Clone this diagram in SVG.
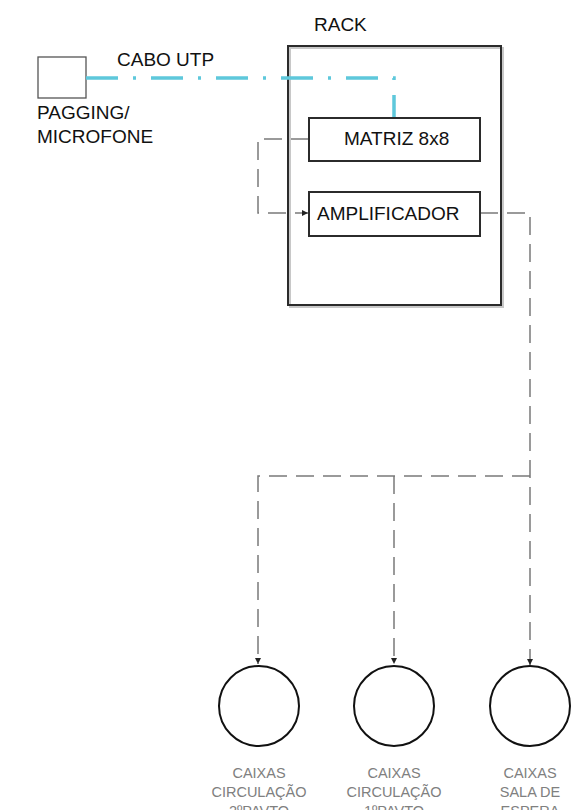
<svg xmlns="http://www.w3.org/2000/svg" width="573" height="810" viewBox="0 0 573 810">
<style>
.box{fill:none;stroke:#2b2b2b;stroke-width:2}
.shadow{fill:none;stroke:#c8c8c8;stroke-width:2}
.lbl{font-family:"Liberation Sans",Arial,sans-serif;font-size:19px;fill:#111}
.cap{font-family:"Liberation Sans",Arial,sans-serif;font-size:14.5px;fill:#808080;text-anchor:middle}
.dash{fill:none;stroke:#7a7a7a;stroke-width:1.5;stroke-dasharray:18 9}
.spk{fill:#fff;stroke:#111;stroke-width:2}
.utp{fill:none;stroke:#5ec8db;stroke-width:3.5;stroke-dasharray:32 15 3 15}
</style>
<defs>
<marker id="arr" viewBox="0 0 10 10" refX="10" refY="5" markerWidth="8" markerHeight="6" markerUnits="userSpaceOnUse" orient="auto">
<path d="M0,0 L10,5 L0,10 z" fill="#222"/>
</marker>
</defs>

<g id="pagging">
<rect x="38" y="57" width="48" height="41" fill="#fff" stroke="#555" stroke-width="1.3"/>
<text class="lbl" x="37" y="119">PAGGING/</text>
<text class="lbl" x="37" y="143">MICROFONE</text>
</g>

<g id="rack">
<rect class="shadow" x="290" y="48" width="213" height="259"/>
<rect class="box" x="288" y="46" width="213" height="259" fill="#fff"/>
<text class="lbl" x="314" y="31">RACK</text>
</g>

<g id="connectors">
<path class="utp" d="M86,78 H394 V117"/>
<path class="dash" d="M309,139 H258 V213 H308" marker-end="url(#arr)"/>
<path class="dash" d="M480,213 H530 V665" stroke-dasharray="20 9 18 9" marker-end="url(#arr)"/>
<path class="dash" d="M530,476 H258 V664" marker-end="url(#arr)"/>
<path d="M394,476 V664" fill="none" stroke="#7a7a7a" stroke-width="1.5" stroke-dasharray="18 9" marker-end="url(#arr)"/>
</g>

<g id="matriz">
<rect class="box" x="309" y="118" width="171" height="43" fill="#fff"/>
<text class="lbl" x="344" y="145">MATRIZ 8x8</text>
</g>

<g id="amplificador">
<rect class="box" x="309" y="192" width="171" height="44" fill="#fff"/>
<text class="lbl" x="317" y="220">AMPLIFICADOR</text>
</g>

<g id="cx2">
<circle class="spk" cx="259" cy="706" r="40"/>
<text class="cap" x="259" y="778">CAIXAS</text>
<text class="cap" x="259" y="797">CIRCULAÇÃO</text>
<text class="cap" x="259" y="816">2ºPAVTO</text>
</g>

<g id="cx1">
<circle class="spk" cx="394" cy="706" r="40"/>
<text class="cap" x="394" y="778">CAIXAS</text>
<text class="cap" x="394" y="797">CIRCULAÇÃO</text>
<text class="cap" x="394" y="816">1ºPAVTO</text>
</g>

<g id="cx3">
<circle class="spk" cx="530" cy="706" r="40"/>
<text class="cap" x="530" y="778">CAIXAS</text>
<text class="cap" x="530" y="797">SALA DE</text>
<text class="cap" x="530" y="816">ESPERA</text>
</g>

<text class="lbl" x="117" y="66">CABO UTP</text>
</svg>
